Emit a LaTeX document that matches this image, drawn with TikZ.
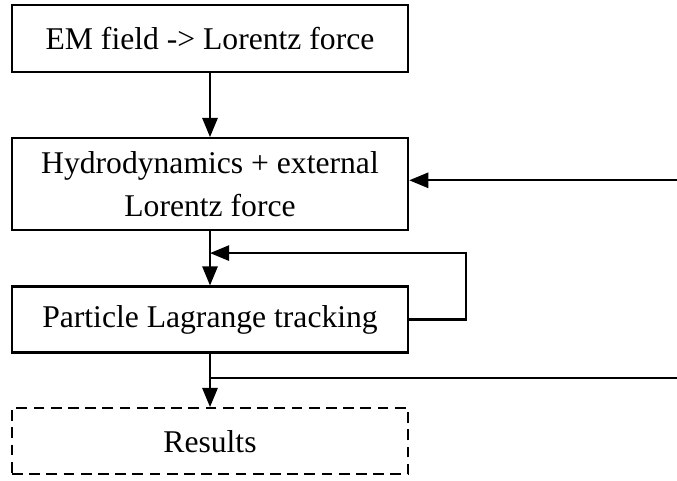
\documentclass[tikz,border=0pt]{standalone}
\usepackage{fontspec}
\setmainfont{Liberation Serif}
\usetikzlibrary{arrows.meta, positioning, calc}

\begin{document}
\begin{tikzpicture}[
    every node/.style={font=\fontsize{22.5}{30.5}\selectfont, align=center},
    box/.style={rectangle, draw, line width=1.7pt, minimum width=9.9cm, minimum height=1.675cm},
    arrow/.style={-{Triangle[length=4.8mm, width=3.8mm]}, line width=1.7pt},
    link/.style={line width=1.7pt}
]
    \useasboundingbox (0,0) rectangle (16.925,-12);
    \coordinate (redge) at (16.925,0);

    \node[box] (emfield) at (5.25,-0.96) {EM field -> Lorentz force};
    \node[box, below=1.6cm of emfield, minimum height=2.3cm] (hydro) {Hydrodynamics + external\\Lorentz force};
    \node[box, below=1.35cm of hydro, minimum height=1.65cm] (track) {Particle Lagrange tracking};
    \node[box, below=1.33cm of track, minimum height=1.65cm, dash pattern=on 2.7mm off 1.6mm] (res) {Results};

    \coordinate (loop) at ($(hydro.south)!0.4!(track.north)$);
    \coordinate (split) at ($(track.south)!0.45!(res.north)$);
    \coordinate (feed) at ($(hydro.east -| redge)+(0,0.1)$);
    \coordinate (exit) at (split -| redge);

    \draw[arrow] (emfield) -- (hydro);
    \draw[arrow] (hydro) -- (track);
    \draw[arrow] (track) -- (res);
    \draw[arrow] (feed) -- (feed -| hydro.east);
    \draw[arrow] (track.east) -- ++(1.425,0) |- (loop);
    \draw[link] (split) -- (exit);
\end{tikzpicture}
\end{document}
